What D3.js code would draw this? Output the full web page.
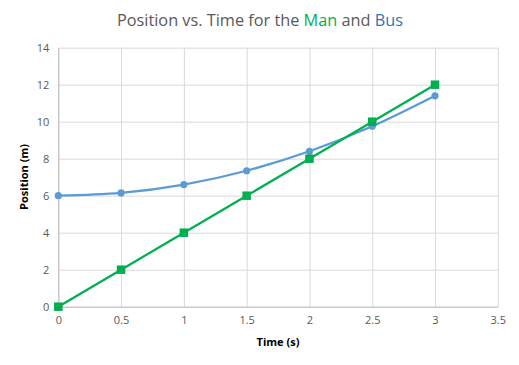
<!DOCTYPE html>
<html><head><meta charset="utf-8">
<script src="https://cdn.jsdelivr.net/npm/d3@7"></script>
<style>
html,body{margin:0;padding:0;background:#fff;}
text{font-family:"Open Sans","Liberation Sans",sans-serif;}
</style></head>
<body><svg id="c" width="519" height="365"></svg>
<script>
const times = [0, 0.5, 1, 1.5, 2, 2.5, 3];
const manPos = [0, 2, 4, 6, 8, 10, 12];
const busPos = [6, 6.15, 6.6, 7.35, 8.4, 9.75, 11.4];
const xTicks = [0, 0.5, 1, 1.5, 2, 2.5, 3, 3.5];
const yTicks = [0, 2, 4, 6, 8, 10, 12, 14];

const svg = d3.select("#c");
const m = {l:58.3, r:519-497.8, t:47.7, b:365-306.7};
const W = 519, H = 365;
const x = d3.scaleLinear().domain([0,3.5]).range([m.l, W-m.r]);
const y = d3.scaleLinear().domain([0,14]).range([H-m.b, m.t]);

// gridlines
const gx = svg.append("g").attr("transform",`translate(0,${H-m.b})`)
  .call(d3.axisBottom(x).tickValues(xTicks).tickSize(-(H-m.b-m.t)).tickFormat(""));
gx.select(".domain").remove();
gx.selectAll("line").attr("stroke","#D9D9D9");
const gy = svg.append("g").attr("transform",`translate(${m.l},0)`)
  .call(d3.axisLeft(y).tickValues(yTicks).tickSize(-(W-m.l-m.r)).tickFormat(""));
gy.select(".domain").remove();
gy.selectAll("line").attr("stroke","#D9D9D9");

// axes
const ax = svg.append("g").attr("transform",`translate(0,${H-m.b})`)
  .call(d3.axisBottom(x).tickValues(xTicks).tickSize(0).tickPadding(10).tickFormat(d3.format("")));
ax.select(".domain").attr("stroke","#BFBFBF");
ax.selectAll("text").attr("fill","#595959").style("font-size","11px");
const ay = svg.append("g").attr("transform",`translate(${m.l},0)`)
  .call(d3.axisLeft(y).tickValues(yTicks).tickSize(0).tickPadding(9).tickFormat(d3.format("")));
ay.select(".domain").attr("stroke","#BFBFBF");
ay.selectAll("text").attr("fill","#595959").style("font-size","11px");

// series
const busData = times.map((t,i)=>({t, v:busPos[i]}));
const manData = times.map((t,i)=>({t, v:manPos[i]}));
const busLine = d3.line().x(d=>x(d.t)).y(d=>y(d.v)).curve(d3.curveCatmullRom.alpha(0.5));
const manLine = d3.line().x(d=>x(d.t)).y(d=>y(d.v));

svg.append("path").datum(busData).attr("d",busLine).attr("fill","none")
  .attr("stroke","#5B9BD5").attr("stroke-width",2.25).attr("stroke-linecap","round");
svg.append("g").selectAll("circle").data(busData).join("circle")
  .attr("cx",d=>x(d.t)).attr("cy",d=>y(d.v)).attr("r",3.6).attr("fill","#5B9BD5");

svg.append("path").datum(manData).attr("d",manLine).attr("fill","none")
  .attr("stroke","#00B050").attr("stroke-width",2.25).attr("stroke-linecap","round");
const s = 8.5;
svg.append("g").selectAll("rect").data(manData).join("rect")
  .attr("x",d=>x(d.t)-s/2).attr("y",d=>y(d.v)-s/2).attr("width",s).attr("height",s).attr("fill","#00B050");

// title
const title = svg.append("text").attr("x",260).attr("y",26).attr("text-anchor","middle")
  .style("font-size","16.3px").attr("fill","#595959");
title.append("tspan").text("Position vs. Time for the ");
title.append("tspan").text("Man").attr("fill","#00B050");
title.append("tspan").text(" and ");
title.append("tspan").text("Bus").attr("fill","#2E75B6");

// axis titles
svg.append("text").attr("x",278).attr("y",346).attr("text-anchor","middle")
  .style("font-size","11px").style("font-weight","bold").attr("fill","#000").text("Time (s)");
svg.append("text").attr("transform","translate(28,177) rotate(-90)").attr("text-anchor","middle")
  .style("font-size","11px").style("font-weight","bold").attr("fill","#000").text("Position (m)");
</script></body></html>
